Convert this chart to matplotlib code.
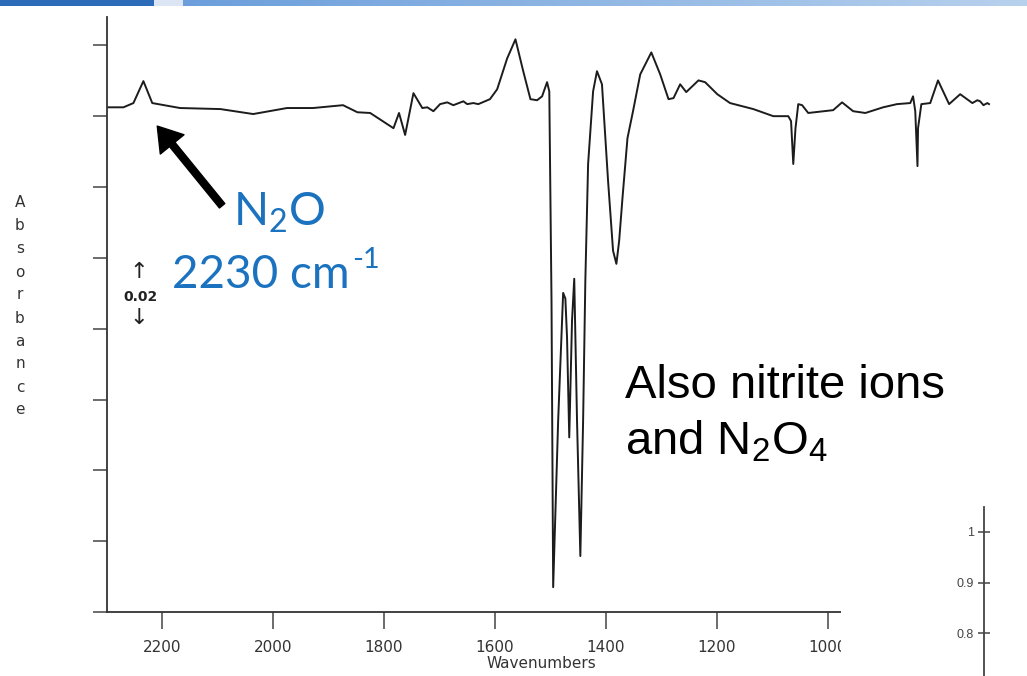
import numpy as np
import matplotlib.pyplot as plt
from matplotlib.patches import Rectangle

plt.rcParams['mathtext.default'] = 'regular'

# difference spectrum
wavenumber = [2300, 2270, 2252, 2234, 2218, 2168, 2095, 2036, 1975, 1928,
              1874, 1848, 1825, 1783, 1773, 1762, 1747, 1731, 1722, 1711,
              1699, 1686, 1675, 1657, 1650, 1639, 1630, 1609, 1596, 1578,
              1563, 1549, 1536, 1524, 1515, 1506, 1502, 1498, 1495, 1486,
              1477, 1473, 1470, 1466, 1461, 1457, 1452, 1446, 1441, 1437,
              1432, 1423, 1416, 1407, 1396, 1387, 1381, 1376, 1370, 1361,
              1351, 1338, 1318, 1302, 1287, 1278, 1266, 1255, 1233, 1221,
              1199, 1176, 1134, 1098, 1071, 1066, 1062, 1058, 1053, 1046,
              1035, 990, 974, 954, 932, 900, 875, 851, 846, 842,
              838, 837, 831, 815, 801, 781, 761, 739, 730, 725,
              719, 712, 709]
absorbance = [0.1425, 0.1425, 0.1437, 0.1499, 0.1437, 0.1423, 0.1420, 0.1406, 0.1423, 0.1423,
              0.1431, 0.1411, 0.1409, 0.1366, 0.1409, 0.1347, 0.1465, 0.1423, 0.1425, 0.1414,
              0.1434, 0.1439, 0.1431, 0.1442, 0.1434, 0.1437, 0.1434, 0.1448, 0.1476, 0.1563,
              0.1617, 0.1527, 0.1448, 0.1445, 0.1456, 0.1496, 0.1470, 0.0879, 0.0070, 0.0541,
              0.0901, 0.0885, 0.0775, 0.0493, 0.0823, 0.0941, 0.0541, 0.0158, 0.0541, 0.0935,
              0.1265, 0.1470, 0.1527, 0.1490, 0.1217, 0.1020, 0.0983, 0.1048, 0.1169, 0.1338,
              0.1414, 0.1518, 0.1580, 0.1518, 0.1448, 0.1451, 0.1490, 0.1468, 0.1501, 0.1496,
              0.1462, 0.1437, 0.1420, 0.1400, 0.1400, 0.1386, 0.1265, 0.1366, 0.1434, 0.1431,
              0.1409, 0.1417, 0.1439, 0.1414, 0.1409, 0.1425, 0.1434, 0.1437, 0.1456, 0.1414,
              0.1259, 0.1366, 0.1434, 0.1437, 0.1501, 0.1434, 0.1462, 0.1437, 0.1445, 0.1442,
              0.1431, 0.1437, 0.1434]

x_ticks = [2200, 2000, 1800, 1600, 1400, 1200, 1000]
y_ticks = [0, 0.02, 0.04, 0.06, 0.08, 0.10, 0.12, 0.14, 0.16]
inset_ticks = [1, 0.9, 0.8]

W, H = 1027, 676


def fx(px):
    return px / W


def fy(py):
    return 1 - py / H


fig = plt.figure(figsize=(W / 100, H / 100), dpi=100)
fig.patch.set_facecolor('white')

# slide header strip
band = fig.add_axes([0, fy(6), 1, 6 / H])
cols = np.zeros((1, W, 3))
cols[0, :154] = (0.17, 0.42, 0.72)
cols[0, 154:183] = (0.86, 0.90, 0.96)
t = np.linspace(0, 1, W - 183)[:, None]
cols[0, 183:] = (1 - t) * np.array([0.42, 0.62, 0.86]) + t * np.array([0.72, 0.82, 0.93])
band.imshow(cols, aspect='auto', extent=(0, 1, 0, 1))
band.axis('off')

# main spectrum
ax = fig.add_axes([fx(106.8), fy(612), fx(994 - 106.8), (612 - 17) / H])
ax.plot(wavenumber, absorbance, color='#1c1c1c', lw=1.4)
ax.set_xlim(2300, 700)
ax.set_ylim(0, 0.168)
ax.set_xticks(x_ticks)
ax.set_xticklabels([str(v) for v in x_ticks])
ax.set_yticks(y_ticks)
ax.set_yticklabels([])
for s in ('top', 'right'):
    ax.spines[s].set_visible(False)
for s in ('left', 'bottom'):
    ax.spines[s].set_color('#333333')
    ax.spines[s].set_linewidth(1.3)
ax.tick_params(axis='x', direction='out', length=12, width=1.1, color='#444444',
               labelsize=11, labelcolor='#333333', pad=8)
ax.tick_params(axis='y', direction='out', length=10, width=1.1, color='#444444')
ax.set_facecolor('none')

# N2O band marker
ax.annotate('', xy=(2209, 0.1372), xytext=(2092, 0.1147),
            arrowprops=dict(facecolor='black', edgecolor='black', width=5,
                            headwidth=22, headlength=17, shrink=0))

blue = '#1B72BE'
fig.text(fx(279), fy(226), r'N$_2$O', color=blue, fontsize=33, family='Lato',
         ha='center', va='baseline')
fig.text(fx(172), fy(288), '2230 cm', color=blue, fontsize=33, family='Lato',
         ha='left', va='baseline')
fig.text(fx(352), fy(268), '-1', color=blue, fontsize=21, family='Lato',
         ha='left', va='baseline')

fig.text(fx(625), fy(398), 'Also nitrite ions', fontsize=34,
         family='Liberation Sans', ha='left', va='baseline')
fig.text(fx(625), fy(455), r'and N$_2$O$_4$', fontsize=34,
         family='Liberation Sans', ha='left', va='baseline')

# scale bar
fig.text(fx(139), fy(272), '\u2191', fontsize=16, ha='center', va='center', color='#222222')
fig.text(fx(140), fy(297), '0.02', fontsize=10, ha='center', va='center',
         color='#222222', weight='bold')
fig.text(fx(139), fy(318), '\u2193', fontsize=16, ha='center', va='center', color='#222222')

# stacked axis title
for i, ch in enumerate('Absorbance'):
    fig.text(fx(20), fy(203 + 23 * i), ch, fontsize=11, ha='center', va='center',
             color='#333333')

fig.text(fx(541), fy(664), 'Wavenumbers', fontsize=11, ha='center', va='center',
         color='#333333')

# white panel with the neighbouring axis
fig.patches.append(Rectangle((fx(841), 0), 1 - fx(841), fy(470), transform=fig.transFigure,
                             facecolor='white', edgecolor='none', zorder=1))

inset = fig.add_axes([fx(984), 0, 0.03, fy(507)], zorder=2)
inset.set_ylim(1 - (676 - 532) / 505, 1 + 25 / 505)
inset.set_yticks(inset_ticks)
inset.set_yticklabels(['1', '0.9', '0.8'])
inset.set_xticks([])
for s in ('top', 'right', 'bottom'):
    inset.spines[s].set_visible(False)
inset.spines['left'].set_color('#444444')
inset.spines['left'].set_linewidth(1.3)
inset.tick_params(axis='y', direction='inout', length=9, width=1.1, color='#444444',
                  labelsize=9, labelcolor='#444444', pad=3)
for lab in inset.get_yticklabels():
    lab.set_family('Liberation Sans')
inset.set_facecolor('none')

fig.savefig('out.png', dpi=100)
